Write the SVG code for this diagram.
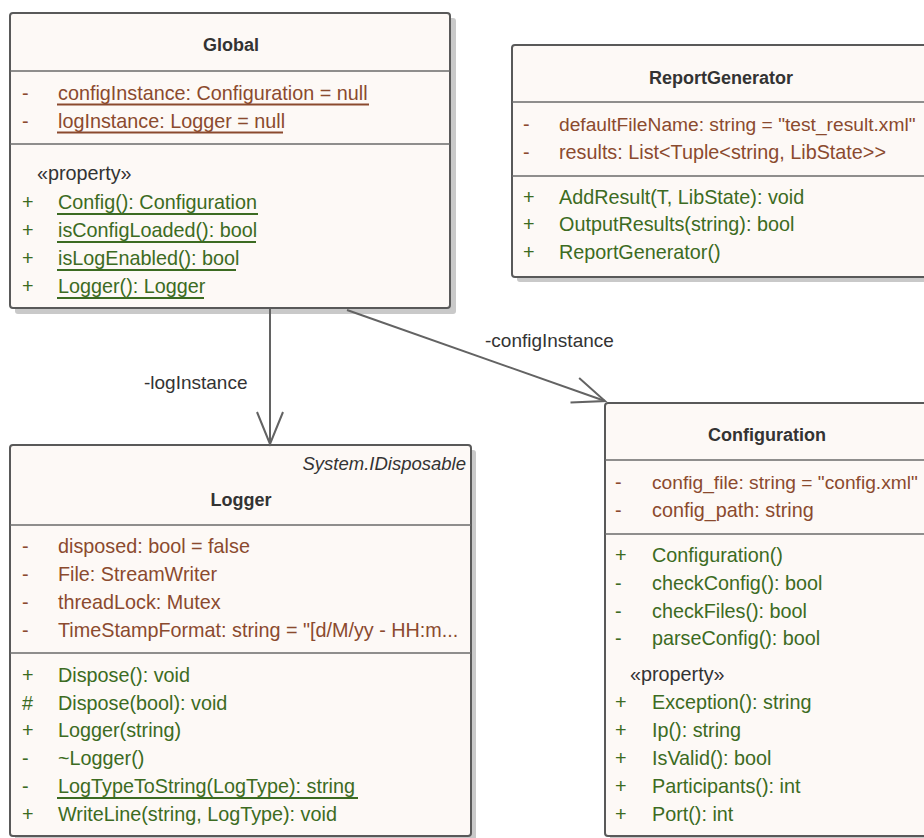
<svg xmlns="http://www.w3.org/2000/svg" width="924" height="838" viewBox="0 0 924 838">
  <style>
    text { font-family: "Liberation Sans", Arial, sans-serif; font-size: 19.8px; }
    .shadow { fill: #c9c9c9; }
    .box { fill: #fdf9f6; stroke: #595959; stroke-width: 2; }
    .sep { stroke: #6a6a6a; stroke-width: 1.6; }
    .title { font-size: 18px; font-weight: bold; fill: #333333; text-anchor: middle; }
    .stereo { fill: #333333; }
    .iface { font-size: 18.5px; font-style: italic; fill: #333333; text-anchor: end; }
    .attr { fill: #8b4a2e; }
    .op { fill: #3c6b22; }
    .tight { font-size: 19.2px; }
    .ua { stroke: #8b4a2e; stroke-width: 2; }
    .uo { stroke: #3c6b22; stroke-width: 2; }
    .conn { stroke: #636363; stroke-width: 2; fill: none; }
    .lbl { font-size: 19px; fill: #333333; }
  </style>
  <defs>
    <marker id="openArrow" markerUnits="userSpaceOnUse" viewBox="-36 -16 38 32" refX="0" refY="0" markerWidth="38" markerHeight="32" orient="auto" overflow="visible">
      <path d="M-32,-13 L0,0 L-32,13" fill="none" stroke="#636363" stroke-width="2"/>
    </marker>
  </defs>

  <rect width="924" height="838" fill="#ffffff"/>

  <!-- Global -->
  <g id="Global">
    <rect class="shadow" x="15" y="18" width="441" height="296" rx="3"/>
    <rect class="box" x="10" y="13" width="440" height="295" rx="3"/>
    <line class="sep" x1="10" y1="71" x2="450" y2="71"/>
    <line class="sep" x1="10" y1="144" x2="450" y2="144"/>
    <text class="title" x="231" y="51">Global</text>
    <text class="attr" x="22" y="100">-</text>
    <text class="attr" x="58" y="100">configInstance: Configuration = null</text>
    <line class="ua" x1="57" y1="104.5" x2="369" y2="104.5"/>
    <text class="attr" x="22" y="128">-</text>
    <text class="attr" x="58" y="128">logInstance: Logger = null</text>
    <line class="ua" x1="57" y1="132.5" x2="283" y2="132.5"/>
    <text class="stereo" x="37" y="180">«property»</text>
    <text class="op" x="22" y="209">+</text>
    <text class="op" x="58" y="209">Config(): Configuration</text>
    <line class="uo" x1="57" y1="214" x2="258" y2="214"/>
    <text class="op" x="22" y="237">+</text>
    <text class="op" x="58" y="237">isConfigLoaded(): bool</text>
    <line class="uo" x1="57" y1="242" x2="256" y2="242"/>
    <text class="op" x="22" y="265">+</text>
    <text class="op" x="58" y="265">isLogEnabled(): bool</text>
    <line class="uo" x1="57" y1="270" x2="236" y2="270"/>
    <text class="op" x="22" y="293">+</text>
    <text class="op" x="58" y="293">Logger(): Logger</text>
    <line class="uo" x1="57" y1="298" x2="204" y2="298"/>
  </g>

  <!-- ReportGenerator -->
  <g id="ReportGenerator">
    <rect class="shadow" x="517" y="50" width="420" height="232" rx="3"/>
    <rect class="box" x="512" y="45" width="420" height="232" rx="3"/>
    <line class="sep" x1="512" y1="102" x2="932" y2="102"/>
    <line class="sep" x1="512" y1="176" x2="932" y2="176"/>
    <text class="title" x="721" y="84">ReportGenerator</text>
    <text class="attr" x="523" y="131">-</text>
    <text class="attr tight" x="559" y="131">defaultFileName: string = "test_result.xml"</text>
    <text class="attr" x="523" y="159">-</text>
    <text class="attr" x="559" y="159">results: List&lt;Tuple&lt;string, LibState&gt;&gt;</text>
    <text class="op" x="523" y="204">+</text>
    <text class="op" x="559" y="204">AddResult(T, LibState): void</text>
    <text class="op" x="523" y="231">+</text>
    <text class="op" x="559" y="231">OutputResults(string): bool</text>
    <text class="op" x="523" y="259">+</text>
    <text class="op" x="559" y="259">ReportGenerator()</text>
  </g>

  <!-- Logger -->
  <g id="Logger">
    <rect class="shadow" x="15" y="450" width="461" height="392" rx="3"/>
    <rect class="box" x="10" y="445" width="461" height="391" rx="3"/>
    <line class="sep" x1="10" y1="525" x2="471" y2="525"/>
    <line class="sep" x1="10" y1="653" x2="471" y2="653"/>
    <text class="iface" x="466" y="470">System.IDisposable</text>
    <text class="title" x="241" y="506">Logger</text>
    <text class="attr" x="22" y="553">-</text>
    <text class="attr" x="58" y="553">disposed: bool = false</text>
    <text class="attr" x="22" y="581">-</text>
    <text class="attr" x="58" y="581">File: StreamWriter</text>
    <text class="attr" x="22" y="609">-</text>
    <text class="attr" x="58" y="609">threadLock: Mutex</text>
    <text class="attr" x="22" y="637">-</text>
    <text class="attr" x="58" y="637">TimeStampFormat: string = "[d/M/yy - HH:m...</text>
    <text class="op" x="22" y="682">+</text>
    <text class="op" x="58" y="682">Dispose(): void</text>
    <text class="op" x="22" y="710">#</text>
    <text class="op" x="58" y="710">Dispose(bool): void</text>
    <text class="op" x="22" y="737">+</text>
    <text class="op" x="58" y="737">Logger(string)</text>
    <text class="op" x="22" y="765">-</text>
    <text class="op" x="58" y="765">~Logger()</text>
    <text class="op" x="22" y="793">-</text>
    <text class="op" x="58" y="793">LogTypeToString(LogType): string</text>
    <line class="uo" x1="57" y1="798" x2="358" y2="798"/>
    <text class="op" x="22" y="821">+</text>
    <text class="op" x="58" y="821">WriteLine(string, LogType): void</text>
  </g>

  <!-- Configuration -->
  <g id="Configuration">
    <rect class="shadow" x="610" y="408" width="330" height="434" rx="3"/>
    <rect class="box" x="605" y="403" width="330" height="433" rx="3"/>
    <line class="sep" x1="605" y1="460" x2="935" y2="460"/>
    <line class="sep" x1="605" y1="534" x2="935" y2="534"/>
    <text class="title" x="767" y="441">Configuration</text>
    <text class="attr" x="615" y="489">-</text>
    <text class="attr tight" x="652" y="489">config_file: string = "config.xml"</text>
    <text class="attr" x="615" y="517">-</text>
    <text class="attr" x="652" y="517">config_path: string</text>
    <text class="op" x="615" y="562">+</text>
    <text class="op" x="652" y="562">Configuration()</text>
    <text class="op" x="615" y="590">-</text>
    <text class="op" x="652" y="590">checkConfig(): bool</text>
    <text class="op" x="615" y="618">-</text>
    <text class="op" x="652" y="618">checkFiles(): bool</text>
    <text class="op" x="615" y="645">-</text>
    <text class="op" x="652" y="645">parseConfig(): bool</text>
    <text class="stereo" x="630" y="681">«property»</text>
    <text class="op" x="615" y="709">+</text>
    <text class="op" x="652" y="709">Exception(): string</text>
    <text class="op" x="615" y="737">+</text>
    <text class="op" x="652" y="737">Ip(): string</text>
    <text class="op" x="615" y="765">+</text>
    <text class="op" x="652" y="765">IsValid(): bool</text>
    <text class="op" x="615" y="793">+</text>
    <text class="op" x="652" y="793">Participants(): int</text>
    <text class="op" x="615" y="821">+</text>
    <text class="op" x="652" y="821">Port(): int</text>
  </g>

  <!-- associations -->
  <g id="connectors">
    <line class="conn" x1="270" y1="309" x2="270" y2="444" marker-end="url(#openArrow)"/>
    <text class="lbl" x="144" y="389">-logInstance</text>
    <line class="conn" x1="347" y1="310" x2="605" y2="401" marker-end="url(#openArrow)"/>
    <text class="lbl" x="485" y="347">-configInstance</text>
  </g>
</svg>
